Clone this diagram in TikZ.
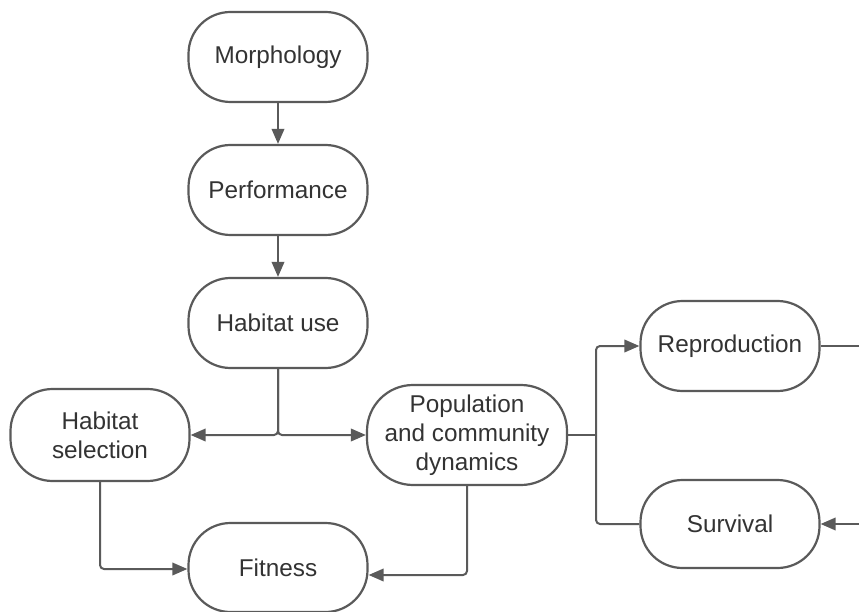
\documentclass[tikz,border=0pt]{standalone}
\usepackage{fontspec}
\setmainfont{Liberation Sans}
\usetikzlibrary{arrows.meta}
\definecolor{linec}{HTML}{5A5A5A}
\definecolor{textc}{HTML}{333333}
\begin{document}
\begin{tikzpicture}[x=1pt,y=-1pt,
  box/.style={draw=linec, line width=2.2pt, rounded corners=42pt, fill=white,
    minimum width=179pt, minimum height=90pt, align=center, text=textc,
    font=\fontsize{24.3}{29}\selectfont, inner sep=0pt},
  conn/.style={draw=linec, line width=2pt, rounded corners=4pt},
  arr/.style={conn, -{Triangle[length=15pt,width=12.5pt]}}]
\useasboundingbox (0,0) rectangle (859,612);
\node[box] (morph) at (278,57) {Morphology};
\node[box] (perf) at (278,190) {Performance};
\node[box] (huse) at (278,323) {Habitat use};
\node[box, minimum height=92pt] (hsel) at (100,435) {Habitat\\selection};
\node[box, minimum width=200pt, minimum height=100pt, rounded corners=46pt] (pop) at (467,435) {Population\\and community\\dynamics};
\node[box] (repr) at (730,346) {Reproduction};
\node[box, minimum height=88pt] (surv) at (730,524) {Survival};
\node[box, minimum height=89pt] (fit) at (278,567.5) {Fitness};
\coordinate (split) at (596,435);
\coordinate (rout) at (859,346);
\coordinate (rin) at (859,524);
\draw[arr] (morph) -- (perf);
\draw[arr] (perf) -- (huse);
\draw[arr] (huse.south) |- (hsel.east);
\draw[arr] (huse.south) |- (pop.west);
\draw[conn] (pop.east) -- (split);
\draw[arr] (split) |- (repr.west);
\draw[conn] (split) |- (surv.west);
\draw[conn] (repr.east) -- (rout);
\draw[arr] (rin) -- (surv.east);
\draw[arr] (hsel.south) |- ([yshift=-1.5pt]fit.west);
\draw[arr] (pop.south) |- ([yshift=-7.5pt]fit.east);
\end{tikzpicture}
\end{document}
